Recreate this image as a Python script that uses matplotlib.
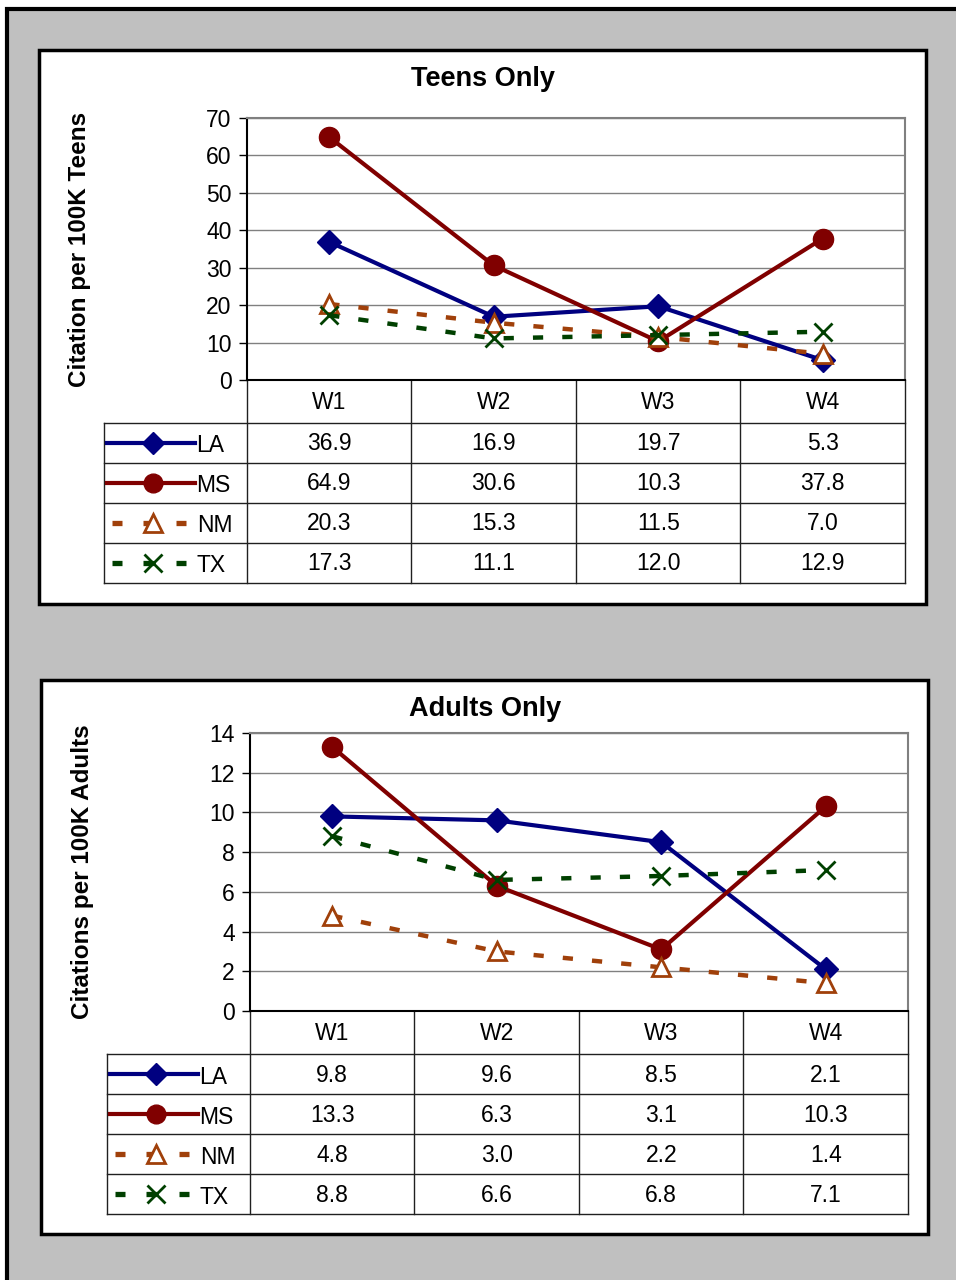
import matplotlib
matplotlib.use("Agg")
import matplotlib.pyplot as plt
from matplotlib.patches import Rectangle
from matplotlib.lines import Line2D

plt.rcParams['font.family'] = ['Liberation Sans', 'DejaVu Sans']

weeks = ["W1", "W2", "W3", "W4"]
states = ["LA", "MS", "NM", "TX"]
teens_LA = [36.9, 16.9, 19.7, 5.3]
teens_MS = [64.9, 30.6, 10.3, 37.8]
teens_NM = [20.3, 15.3, 11.5, 7.0]
teens_TX = [17.3, 11.1, 12.0, 12.9]
adults_LA = [9.8, 9.6, 8.5, 2.1]
adults_MS = [13.3, 6.3, 3.1, 10.3]
adults_NM = [4.8, 3.0, 2.2, 1.4]
adults_TX = [8.8, 6.6, 6.8, 7.1]

W, H = 956, 1280
fig = plt.figure(figsize=(W / 100, H / 100), dpi=100)

bg = fig.add_axes([0, 0, 1, 1])
bg.set_xlim(0, W)
bg.set_ylim(H, 0)
bg.axis('off')

# outer gray frame
bg.add_patch(Rectangle((7, 9), W, H, facecolor='#C0C0C0', edgecolor='black', lw=3))

styles = {
    "LA": dict(color='#000080', ls='-', marker='D', ms=12.5, mfc='#000080', mec='#000080', mew=1),
    "MS": dict(color='#800000', ls='-', marker='o', ms=14.5, mfc='#800000', mec='#800000', mew=1),
    "NM": dict(color='#A0400A', ls=(0, (2.3, 4.3)), marker='^', ms=13.5, mfc='white', mec='#A0400A', mew=2),
    "TX": dict(color='#004000', ls=(0, (2.3, 4.3)), marker='x', ms=13.5, mfc='#004000', mec='#004000', mew=2),
}
lws = {"LA": 3.0, "MS": 3.0, "NM": 3.2, "TX": 3.2}

TICK_FS = 16.5
TABLE_FS = 16.5
TITLE_FS = 19.5
YLAB_FS = 17.5


def panel(box, plot, title, ylabel, ymax, ystep, series, table_left, ylabel_x):
    bx0, by0, bx1, by1 = box
    bg.add_patch(Rectangle((bx0, by0), bx1 - bx0, by1 - by0, facecolor='white',
                           edgecolor='black', lw=2.5, zorder=1))
    px0, py0, px1, py1 = plot
    ax = fig.add_axes([px0 / W, 1 - py1 / H, (px1 - px0) / W, (py1 - py0) / H])
    ax.set_facecolor('white')
    xs = list(range(len(weeks)))
    for st, vals in zip(states, series):
        s = styles[st]
        ax.plot(xs, vals, lw=lws[st], clip_on=False, **s)
    ax.set_xlim(-0.5, len(weeks) - 0.5)
    ax.set_ylim(0, ymax)
    ax.set_yticks(range(0, ymax + 1, ystep))
    ax.yaxis.grid(True, color='#808080', lw=1)
    ax.set_axisbelow(True)
    ax.set_xticks([])
    ax.tick_params(axis='y', direction='out', length=6, width=1, labelsize=TICK_FS, pad=5)
    for sp in ['top', 'right']:
        ax.spines[sp].set_color('#808080')
        ax.spines[sp].set_linewidth(1.5)
    ax.spines['left'].set_linewidth(1.5)
    ax.spines['bottom'].set_linewidth(1.5)
    fig.text((bx0 + bx1) / 2 / W + 0.001, 1 - (by0 + 29) / H, title, ha='center', va='center',
             fontsize=TITLE_FS, fontweight='bold')
    fig.text(ylabel_x / W, 1 - (py0 + py1) / 2 / H, ylabel, rotation=90, ha='center',
             va='center', fontsize=YLAB_FS, fontweight='bold')

    # table
    cw = (px1 - px0) / len(weeks)
    hdr_bot = py1 + 43
    rows = [hdr_bot + 40 * i for i in range(len(states) + 1)]
    tcol = '#202020'
    for i in range(len(weeks) + 1):
        bg.plot([px0 + i * cw] * 2, [py1, rows[-1]], color=tcol, lw=1, zorder=2)
    bg.plot([table_left, table_left], [rows[0], rows[-1]], color=tcol, lw=1, zorder=2)
    for r in rows:
        bg.plot([table_left, px1], [r, r], color=tcol, lw=1, zorder=2)
    for i, wk in enumerate(weeks):
        bg.text(px0 + (i + 0.5) * cw, (py1 + hdr_bot) / 2 + 1, wk, ha='center', va='center',
                fontsize=TABLE_FS, zorder=3)
    for j, (st, vals) in enumerate(zip(states, series)):
        yc = (rows[j] + rows[j + 1]) / 2
        for i, v in enumerate(vals):
            bg.text(px0 + (i + 0.5) * cw, yc + 1, f"{v:.1f}", ha='center', va='center',
                    fontsize=TABLE_FS, zorder=3)
        s = styles[st]
        lx0 = table_left + 3
        lx1 = table_left + 91
        if st in ("NM", "TX"):
            for a, b in [(5, 15), (36, 46), (69, 79)]:
                bg.add_line(Line2D([lx0 + a, lx0 + b], [yc, yc], color=s['color'], lw=3.8,
                                   solid_capstyle='butt', zorder=3))
            bg.add_line(Line2D([lx0 + 46], [yc], ls='none', marker=s['marker'], ms=s['ms'] - 1,
                               mfc=s['mfc'], mec=s['mec'], mew=s['mew'], zorder=4))
            tx = table_left + 93
        else:
            bg.add_line(Line2D([lx0, lx1], [yc, yc], color=s['color'], lw=lws[st], zorder=3))
            bg.add_line(Line2D([(lx0 + lx1) / 2 + 2], [yc], ls='none', marker=s['marker'],
                               ms=s['ms'] - 1, mfc=s['mfc'], mec=s['mec'], zorder=4))
            tx = lx1 + 1
        bg.text(tx, yc + 3, st, ha='left', va='center', fontsize=TABLE_FS, zorder=3)
    return ax


panel((39, 50, 926, 604), (247, 118, 905, 380), "Teens Only", "Citation per 100K Teens",
      70, 10, [teens_LA, teens_MS, teens_NM, teens_TX], 104, 80)
panel((41, 680, 928, 1234), (250, 733, 908, 1011), "Adults Only", "Citations per 100K Adults",
      14, 2, [adults_LA, adults_MS, adults_NM, adults_TX], 107, 83)

fig.savefig("out.png", dpi=100)
